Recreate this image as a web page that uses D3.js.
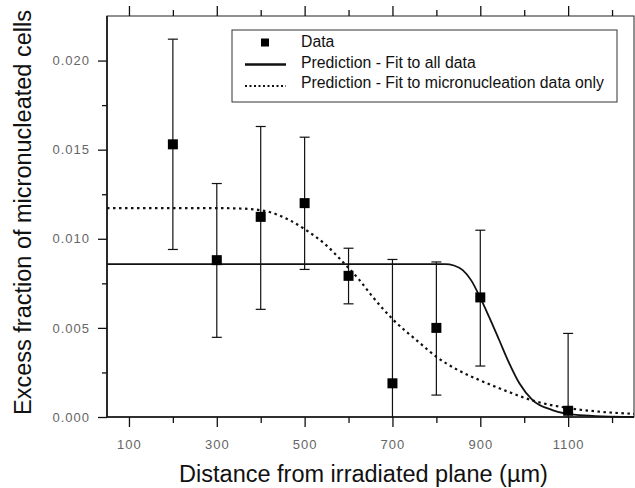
<!DOCTYPE html>
<html>
<head>
<meta charset="utf-8">
<script src="https://cdn.jsdelivr.net/npm/d3@7"></script>
<style>
  body { margin: 0; background: #fff; }
  text { font-family: Arial, "Liberation Sans", sans-serif; }
</style>
</head>
<body>
<svg id="chart" width="635" height="488"></svg>
<script>
// measured data (distance in um, excess fraction of micronucleated cells)
const distances = [200, 300, 400, 500, 600, 700, 800, 900, 1100];
const fraction  = [0.0153, 0.0088, 0.01123, 0.0120, 0.00792, 0.00189, 0.0050, 0.00671, 0.00035];
const errTop    = [0.0212, 0.0131, 0.0163, 0.0157, 0.00947, 0.00884, 0.0087, 0.01048, 0.00469];
const errBottom = [0.0094, 0.00447, 0.00604, 0.00828, 0.00635, 0.0, 0.00123, 0.00286, 0.0];

// prediction - fit to all data
const fitAllX = [50, 400, 820, 840, 860, 879, 899, 920, 943, 966, 989, 1019, 1064, 1125, 1250];
const fitAllY = [0.00858, 0.00858, 0.00858, 0.00850, 0.00824, 0.00768, 0.00674, 0.00562, 0.00432, 0.00301, 0.00189, 0.00095, 0.00039, 0.00011, 0.0];

// prediction - fit to micronucleation data only
const fitMnX = [50, 300, 352, 400, 420, 466, 504, 549, 587, 625, 655, 700, 761, 799, 850, 900, 960, 1020, 1100, 1170, 1250];
const fitMnY = [0.01172, 0.01172, 0.0117, 0.0116, 0.0115, 0.01104, 0.01048, 0.00964, 0.0087, 0.00768, 0.00674, 0.0055, 0.00418, 0.0034, 0.00262, 0.00205, 0.00145, 0.00092, 0.0005, 0.0003, 0.00018];

const xMajor = [100, 300, 500, 700, 900, 1100];
const xMinor = [200, 400, 600, 800, 1000, 1200];
const yMajor = [0, 0.005, 0.010, 0.015, 0.020];
const yMinor = [0.0025, 0.0075, 0.0125, 0.0175];

const legendLabels = ["Data", "Prediction - Fit to all data", "Prediction - Fit to micronucleation data only"];

const margin = { top: 16, right: 1, bottom: 71, left: 107 },
      width = 635 - margin.left - margin.right,
      height = 488 - margin.top - margin.bottom;

const svg = d3.select("#chart")
  .append("g")
  .attr("transform", `translate(${margin.left}, ${margin.top})`);

const x = d3.scaleLinear().domain([50, 1250]).range([0, width]);
const y = d3.scaleLinear().domain([0, 0.0225]).range([height, 0]);

// frame
svg.append("rect")
  .attr("x", 0).attr("y", 0)
  .attr("width", width).attr("height", height)
  .attr("fill", "none")
  .attr("stroke", "#222")
  .attr("stroke-width", 1);

function styleAxis(g) {
  g.select(".domain").remove();
  g.selectAll("line").attr("stroke", "#111").attr("stroke-width", 1.3);
  g.selectAll("text")
    .attr("fill", "#666")
    .style("font-size", "13px")
    .style("letter-spacing", "1px");
}

// bottom axis
svg.append("g")
  .attr("transform", `translate(0, ${height})`)
  .call(d3.axisBottom(x).tickValues(xMajor).tickSize(10).tickPadding(13).tickFormat(d3.format("d")))
  .call(styleAxis);
svg.append("g")
  .attr("transform", `translate(0, ${height})`)
  .call(d3.axisBottom(x).tickValues(xMinor).tickSize(6).tickFormat(""))
  .call(styleAxis);

// top ticks
svg.append("g")
  .call(d3.axisTop(x).tickValues(xMajor).tickSize(10).tickFormat(""))
  .call(styleAxis);
svg.append("g")
  .call(d3.axisTop(x).tickValues(xMinor).tickSize(6).tickFormat(""))
  .call(styleAxis);

// left axis
svg.append("g")
  .call(d3.axisLeft(y).tickValues(yMajor).tickSize(9).tickPadding(8).tickFormat(d3.format(".3f")))
  .call(styleAxis);
svg.append("g")
  .call(d3.axisLeft(y).tickValues(yMinor).tickSize(5).tickFormat(""))
  .call(styleAxis);

// thicker left and bottom axis lines
svg.append("line").attr("x1", 0).attr("x2", 0).attr("y1", 0).attr("y2", height)
  .attr("stroke", "#111").attr("stroke-width", 1.6);
svg.append("line").attr("x1", 0).attr("x2", width).attr("y1", height).attr("y2", height)
  .attr("stroke", "#111").attr("stroke-width", 1.6);

// prediction curves
const fitAll = fitAllX.map((d, i) => ({ x: d, y: fitAllY[i] }));
const fitMn = fitMnX.map((d, i) => ({ x: d, y: fitMnY[i] }));

const line = d3.line()
  .x(d => x(d.x))
  .y(d => y(d.y))
  .curve(d3.curveMonotoneX);

svg.append("path")
  .datum(fitAll)
  .attr("d", line)
  .attr("fill", "none")
  .attr("stroke", "#111")
  .attr("stroke-width", 1.8);

svg.append("path")
  .datum(fitMn)
  .attr("d", line)
  .attr("fill", "none")
  .attr("stroke", "#111")
  .attr("stroke-width", 2.2)
  .attr("stroke-dasharray", "2.5,3.5");

// error bars
const pts = distances.map((d, i) => ({ x: d, y: fraction[i], hi: errTop[i], lo: errBottom[i] }));
const bars = svg.append("g").attr("class", "errorbars");
bars.selectAll(".eb")
  .data(pts)
  .enter().append("line")
  .attr("x1", d => x(d.x)).attr("x2", d => x(d.x))
  .attr("y1", d => y(d.hi)).attr("y2", d => y(d.lo))
  .attr("stroke", "#111").attr("stroke-width", 1.2);
bars.selectAll(".capTop")
  .data(pts)
  .enter().append("line")
  .attr("x1", d => x(d.x) - 5).attr("x2", d => x(d.x) + 5)
  .attr("y1", d => y(d.hi)).attr("y2", d => y(d.hi))
  .attr("stroke", "#111").attr("stroke-width", 1.2);
bars.selectAll(".capBot")
  .data(pts.filter(d => d.lo > 0))
  .enter().append("line")
  .attr("x1", d => x(d.x) - 5).attr("x2", d => x(d.x) + 5)
  .attr("y1", d => y(d.lo)).attr("y2", d => y(d.lo))
  .attr("stroke", "#111").attr("stroke-width", 1.2);

// data squares
svg.selectAll(".pt")
  .data(pts)
  .enter().append("rect")
  .attr("x", d => x(d.x) - 5)
  .attr("y", d => y(d.y) - 5)
  .attr("width", 10).attr("height", 10)
  .attr("fill", "#000");

// legend
const legend = svg.append("g").attr("transform", `translate(${232 - margin.left}, ${30 - margin.top})`);
legend.append("rect")
  .attr("width", 385).attr("height", 72)
  .attr("fill", "#fff")
  .attr("stroke", "#333").attr("stroke-width", 1);
legend.append("rect")
  .attr("x", 29).attr("y", 8.5).attr("width", 8).attr("height", 8)
  .attr("fill", "#000");
legend.append("line")
  .attr("x1", 13).attr("x2", 54).attr("y1", 34.5).attr("y2", 34.5)
  .attr("stroke", "#111").attr("stroke-width", 2.5);
legend.append("line")
  .attr("x1", 13).attr("x2", 54).attr("y1", 56).attr("y2", 56)
  .attr("stroke", "#111").attr("stroke-width", 2).attr("stroke-dasharray", "2,2.5");
legend.selectAll(".lt")
  .data(legendLabels)
  .enter().append("text")
  .attr("x", 69)
  .attr("y", (d, i) => 17 + i * 20.5)
  .style("font-size", "15.8px")
  .attr("fill", "#111")
  .text(d => d);

// axis titles
svg.append("text")
  .attr("x", 256.5)
  .attr("y", height + 65)
  .attr("text-anchor", "middle")
  .style("font-size", "23.5px")
  .attr("fill", "#111")
  .text("Distance from irradiated plane (\u00b5m)");

svg.append("text")
  .attr("transform", "rotate(-90)")
  .attr("x", -height / 2 + 4)
  .attr("y", -76)
  .attr("text-anchor", "middle")
  .style("font-size", "23.5px")
  .attr("fill", "#111")
  .text("Excess fraction of micronucleated cells");
</script>
</body>
</html>
